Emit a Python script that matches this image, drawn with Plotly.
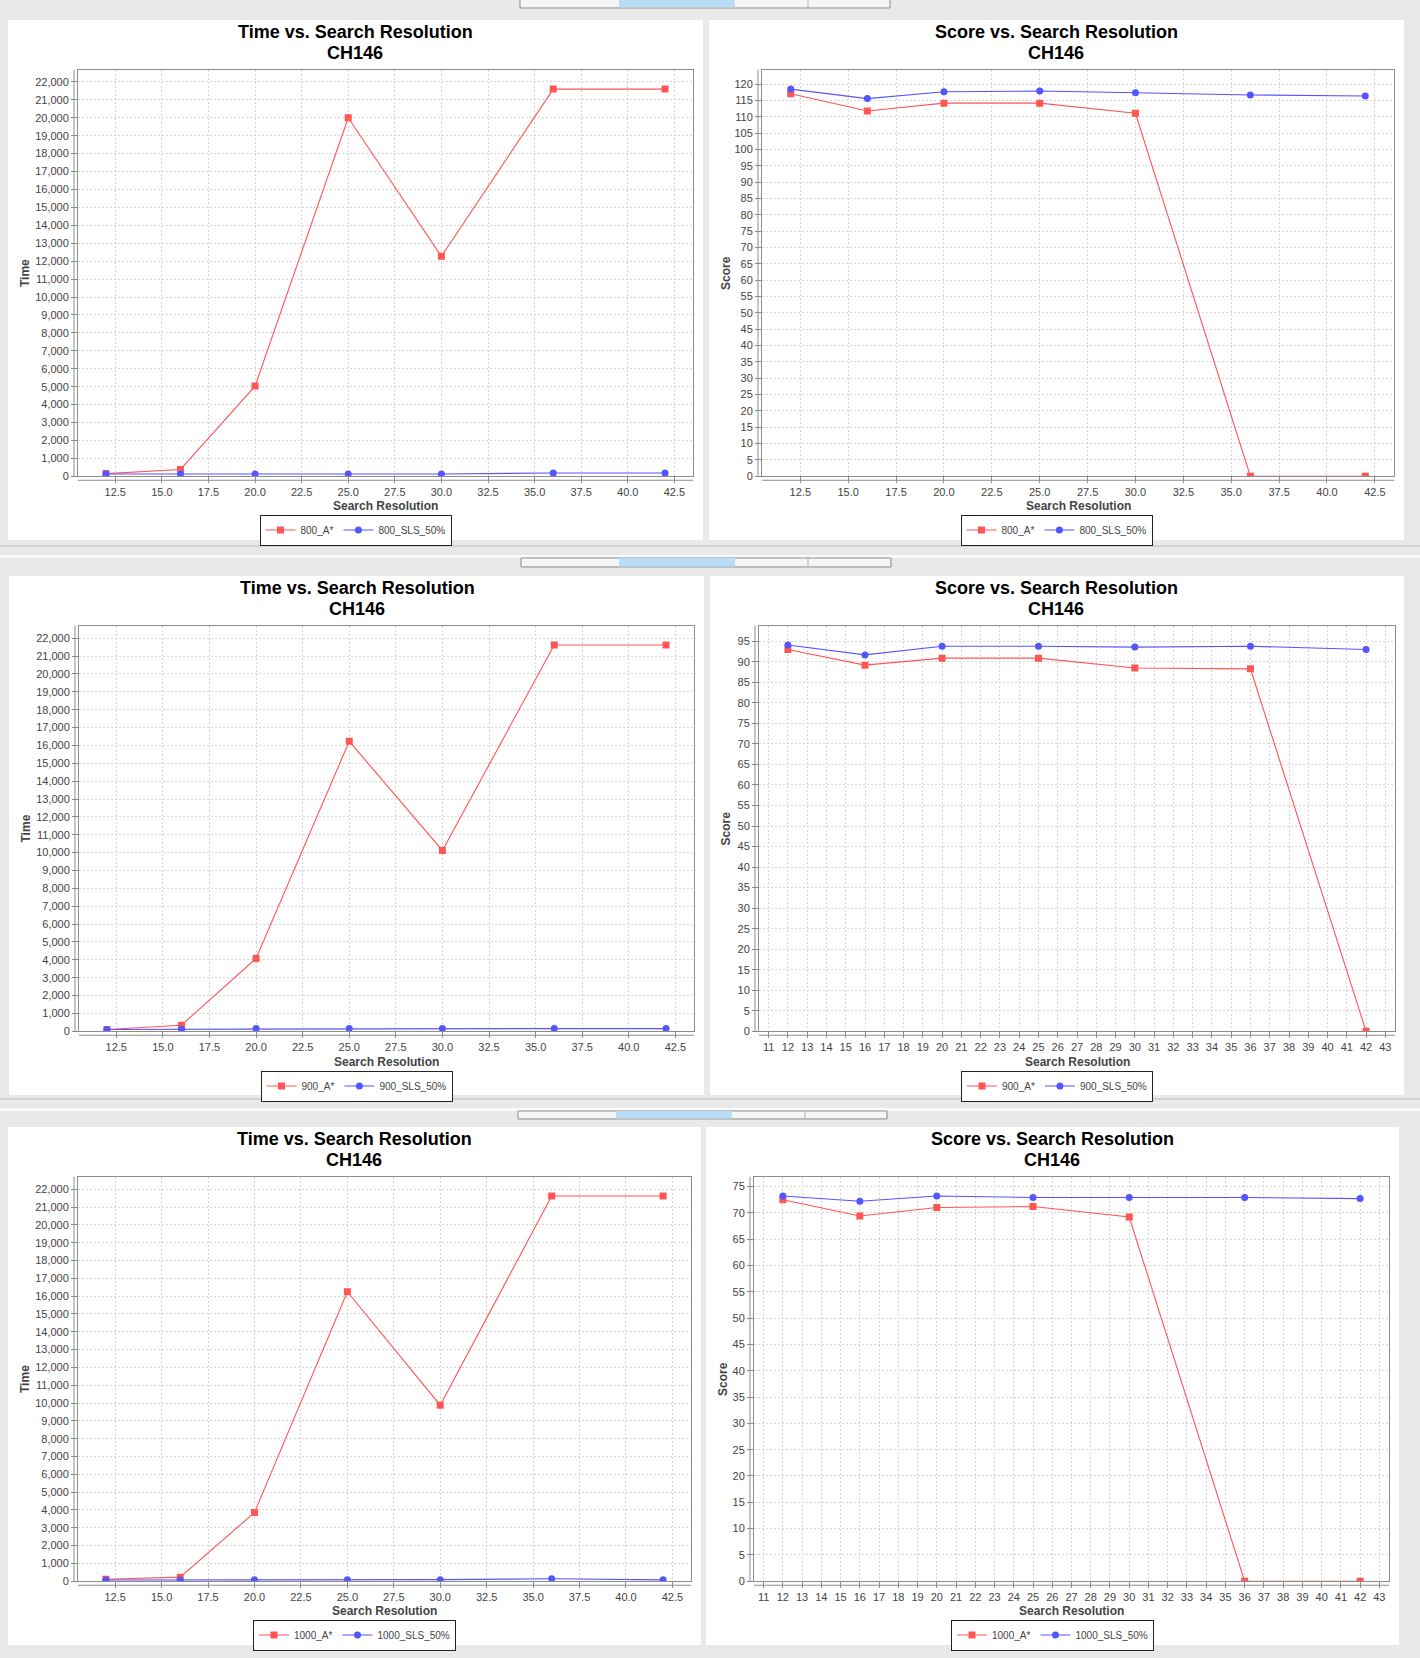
import plotly.graph_objects as go

# ---------------- data ----------------
x_res = [12, 16, 20, 25, 30, 36, 42]

time_800_astar = [150, 380, 5030, 20000, 12270, 21600, 21600]
time_800_sls = [130, 130, 130, 130, 130, 180, 180]
score_800_astar = [117.1, 111.8, 114.2, 114.2, 111.1, 0, 0]
score_800_sls = [118.5, 115.6, 117.7, 117.9, 117.4, 116.7, 116.4]

time_900_astar = [100, 340, 4080, 16230, 10120, 21620, 21620]
time_900_sls = [100, 110, 150, 150, 150, 150, 150]
score_900_astar = [93.0, 89.2, 90.9, 90.9, 88.5, 88.3, 0]
score_900_sls = [94.1, 91.7, 93.8, 93.8, 93.6, 93.8, 93.0]

time_1000_astar = [110, 230, 3860, 16250, 9880, 21620, 21620]
time_1000_sls = [70, 70, 90, 90, 90, 140, 80]
score_1000_astar = [72.5, 69.4, 71.0, 71.2, 69.2, 0, 0]
score_1000_sls = [73.2, 72.2, 73.2, 72.9, 72.9, 72.9, 72.7]

chart_titles = ["Time vs. Search Resolution", "Score vs. Search Resolution"]
subtitle = "CH146"
x_title = "Search Resolution"
y_titles = ["Time", "Score"]

# ---------------- layout geometry (pixels) ----------------
W, H = 1420, 1658
def fx(px): return px / W
def fy(py): return 1 - py / H

FONT = "Liberation Sans, Arial, sans-serif"
RED = "#FF5555"
BLUE = "#5555FF"

panels = [
    dict(white=(8, 20, 703, 542), plot=(78, 70, 693, 478), tcx=355, ty=(32, 53), ytx=25, xty=508, lgy=532,
         kind=0, prefix="800", a=time_800_astar, s=time_800_sls, dtick=2.5),
    dict(white=(709, 20, 1404, 542), plot=(762, 70, 1394, 478), tcx=1056, ty=(32, 53), ytx=726, xty=508, lgy=532,
         kind=1, prefix="800", a=score_800_astar, s=score_800_sls, dtick=2.5),
    dict(white=(9, 578, 704, 1099), plot=(79, 628, 694, 1035), tcx=357, ty=(590, 611), ytx=26, xty=1066, lgy=1090,
         kind=0, prefix="900", a=time_900_astar, s=time_900_sls, dtick=2.5),
    dict(white=(710, 578, 1404, 1099), plot=(759, 628, 1395, 1035), tcx=1056, ty=(590, 611), ytx=726, xty=1066, lgy=1090,
         kind=1, prefix="900", a=score_900_astar, s=score_900_sls, dtick=1),
    dict(white=(8, 1131, 701, 1651), plot=(78, 1181, 691, 1587), tcx=354, ty=(1143, 1164), ytx=25, xty=1617, lgy=1641,
         kind=0, prefix="1000", a=time_1000_astar, s=time_1000_sls, dtick=2.5),
    dict(white=(706, 1131, 1399, 1651), plot=(754, 1181, 1389, 1587), tcx=1052, ty=(1143, 1164), ytx=723, xty=1617, lgy=1641,
         kind=1, prefix="1000", a=score_1000_astar, s=score_1000_sls, dtick=1),
]

fig = go.Figure()
shapes = []
annotations = []
layout_axes = {}

shapes.append(dict(type="rect", xref="paper", yref="paper", x0=0, x1=1, y0=0, y1=1,
                   fillcolor="#e9e9e9", line=dict(width=0), layer="below"))

tab_strips = [(-4, 8, 520, 619, 735, 808, 890), (560, 569, 521, 619, 735, 808, 891), (1115, 1123, 518, 616, 732, 805, 887)]
for i, (t0, t1, x0, b0, b1, d1, x1) in enumerate(tab_strips):
    if i > 0:
        sep = t0 - 12
        shapes.append(dict(type="rect", xref="paper", yref="paper", x0=0, x1=1, y0=fy(sep + 1), y1=fy(sep - 1),
                           fillcolor="#d2d2d2", line=dict(width=0), layer="below"))
        shapes.append(dict(type="rect", xref="paper", yref="paper", x0=0, x1=1, y0=fy(t0), y1=fy(t0 - 3),
                           fillcolor="#fafafa", line=dict(width=0), layer="below"))
    shapes.append(dict(type="rect", xref="paper", yref="paper", x0=fx(x0), x1=fx(x1), y0=fy(t1), y1=fy(t0),
                       fillcolor="#f6f6f6", line=dict(color="#8a8a8a", width=1), layer="below"))
    shapes.append(dict(type="rect", xref="paper", yref="paper", x0=fx(b0), x1=fx(b1), y0=fy(t1 - 0.5), y1=fy(t0),
                       fillcolor="#b9dcf7", line=dict(width=0), layer="below"))
    shapes.append(dict(type="line", xref="paper", yref="paper", x0=fx(d1), x1=fx(d1), y0=fy(t1), y1=fy(t0),
                       line=dict(color="#b0b0b0", width=1), layer="below"))

for i, p in enumerate(panels, start=1):
    wl, wt, wr, wb = p["white"]
    pl, pt, pr, pb = p["plot"]
    shapes.append(dict(type="rect", xref="paper", yref="paper", x0=fx(wl), x1=fx(wr), y0=fy(wb), y1=fy(wt),
                       fillcolor="white", line=dict(width=0), layer="below"))

    xa = "x" if i == 1 else f"x{i}"
    ya = "y" if i == 1 else f"y{i}"
    lg = "legend" if i == 1 else f"legend{i}"

    fig.add_trace(go.Scatter(x=x_res, y=p["a"], name=f"{p['prefix']}_A*", mode="lines+markers",
                             line=dict(color=RED, width=1.1), marker=dict(symbol="square", size=7, color=RED),
                             xaxis=xa, yaxis=ya, legend=lg))
    fig.add_trace(go.Scatter(x=x_res, y=p["s"], name=f"{p['prefix']}_SLS_50%", mode="lines+markers",
                             line=dict(color=BLUE, width=1.1), marker=dict(symbol="circle", size=7, color=BLUE),
                             xaxis=xa, yaxis=ya, legend=lg))

    ymax = max(max(p["a"]), max(p["s"])) * 1.05
    xmin = min(x_res) - (max(x_res) - min(x_res)) * 0.05
    xmax = max(x_res) + (max(x_res) - min(x_res)) * 0.05

    common = dict(showline=True, mirror=True, linecolor="#8c8c8c", linewidth=1,
                  ticks="outside", ticklen=6, tickcolor="#8c8c8c", tickwidth=1,
                  showgrid=True, gridcolor="#d6d6d6", gridwidth=1, griddash="2px,2px",
                  zeroline=False, tickfont=dict(family=FONT, size=11, color="#444444"))
    xkey = "xaxis" if i == 1 else f"xaxis{i}"
    ykey = "yaxis" if i == 1 else f"yaxis{i}"
    if p["dtick"] == 1:
        xfmt, t0 = "d", 11
    else:
        xfmt, t0 = ".1f", 12.5
    layout_axes[xkey] = dict(domain=[fx(pl), fx(pr)], anchor=ya, range=[xmin, xmax],
                             tick0=t0, dtick=p["dtick"], tickformat=xfmt, **common)
    if p["kind"] == 0:
        layout_axes[ykey] = dict(domain=[fy(pb), fy(pt)], anchor=xa, range=[0, ymax],
                                 tick0=0, dtick=1000, tickformat=",d", **common)
    else:
        layout_axes[ykey] = dict(domain=[fy(pb), fy(pt)], anchor=xa, range=[0, ymax],
                                 tick0=0, dtick=5, tickformat="d", **common)

    shapes.append(dict(type="line", xref="paper", yref="paper", x0=fx(pl - 4), x1=fx(pl - 4), y0=fy(pb), y1=fy(pt),
                       line=dict(color="#8c8c8c", width=1)))
    shapes.append(dict(type="line", xref="paper", yref="paper", x0=fx(pl), x1=fx(pr), y0=fy(pb + 4), y1=fy(pb + 4),
                       line=dict(color="#8c8c8c", width=1)))

    annotations.append(dict(text=f"<b>{chart_titles[p['kind']]}</b>", x=fx(p["tcx"]), y=fy(p["ty"][0]),
                            xref="paper", yref="paper", xanchor="center", yanchor="middle", showarrow=False,
                            font=dict(family=FONT, size=18, color="black")))
    annotations.append(dict(text=f"<b>{subtitle}</b>", x=fx(p["tcx"]), y=fy(p["ty"][1]),
                            xref="paper", yref="paper", xanchor="center", yanchor="middle", showarrow=False,
                            font=dict(family=FONT, size=18, color="black")))
    annotations.append(dict(text=f"<b>{x_title}</b>", x=fx((pl + pr) / 2), y=fy(p["xty"]),
                            xref="paper", yref="paper", xanchor="center", yanchor="middle", showarrow=False,
                            font=dict(family=FONT, size=12, color="#444444")))
    annotations.append(dict(text=f"<b>{y_titles[p['kind']]}</b>", x=fx(p["ytx"]), y=fy((pt + pb) / 2),
                            xref="paper", yref="paper", xanchor="center", yanchor="middle", showarrow=False,
                            textangle=-90, font=dict(family=FONT, size=12, color="#444444")))

    layout_axes[lg] = dict(orientation="h", x=fx((wl + wr) / 2), y=fy(p["lgy"]), xanchor="center", yanchor="middle",
                           xref="paper", yref="paper", bgcolor="white", bordercolor="#222222", borderwidth=1,
                           font=dict(family=FONT, size=10, color="#444444"), itemwidth=30,
                           tracegroupgap=0, itemclick=False)

fig.update_layout(
    width=W, height=H,
    margin=dict(l=0, r=0, t=0, b=0),
    paper_bgcolor="#e9e9e9",
    plot_bgcolor="white",
    showlegend=True,
    shapes=shapes,
    annotations=annotations,
    font=dict(family=FONT),
    **layout_axes,
)

fig.write_html(
    "out.html",
    config={"displayModeBar": False},
    post_script="document.body.style.margin='0';document.body.style.padding='0';"
                "document.documentElement.style.overflow='hidden';document.body.style.background='#e9e9e9';",
)
